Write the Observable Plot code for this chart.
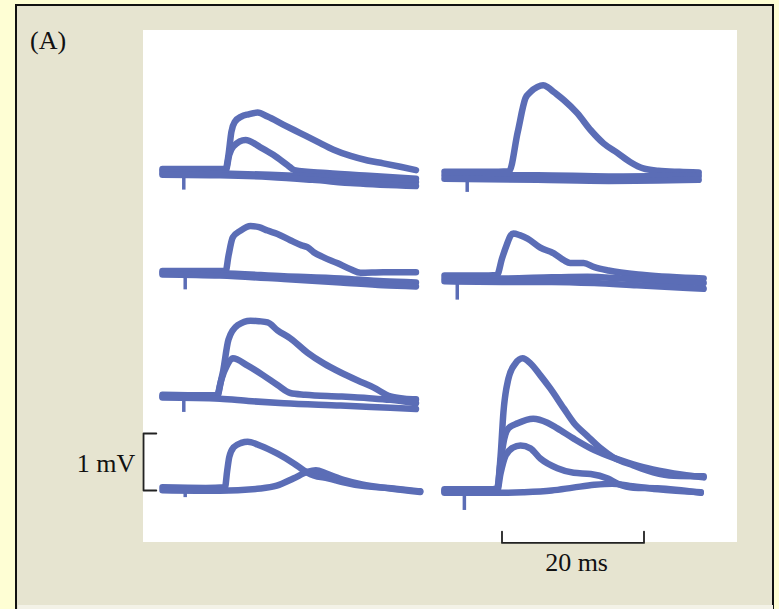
<!DOCTYPE html>
<html>
<head>
<meta charset="utf-8">
<script src="https://cdn.jsdelivr.net/npm/d3@7"></script>
<script src="https://cdn.jsdelivr.net/npm/@observablehq/plot@0.6"></script>
<style>
  body { margin: 0; background: #fefed4; }
  #wrap { position: relative; width: 779px; height: 609px; overflow: hidden; background: #fefed4; }
  #frame { position: absolute; left: 15px; top: 4px; width: 755px; height: 620px;
           border: 2.5px solid #111; border-bottom: none; background: #e6e4d0; }
  #strip { position: absolute; left: 17.5px; top: 605px; width: 755px; height: 6px; background: #f3f2e7; }
  #white { position: absolute; left: 143px; top: 30px; width: 594px; height: 512px; background: #fff; }
  #label { position: absolute; left: 30px; top: 28px; font: 26px/1 "Liberation Serif", serif; color: #111; }
  #chart { position: absolute; left: 0; top: 0; }
</style>
</head>
<body>
<div id="wrap">
  <div id="frame"></div>
  <div id="strip"></div>
  <div id="white"></div>
  <div id="label">(A)</div>
  <div id="chart"></div>
</div>
<script>
// ---- Recorded sweeps: [time (ms), membrane potential change (mV)] ----
// Left column
const L1_big   = [[-3.1,0.05],[0,0.05],[3,0.05],[5.8,0.05],[6.2,0.3],[6.6,0.7],[7.1,0.88],[8,0.97],[9,1.01],[10.3,1.04],[11.7,0.97],[13.9,0.83],[16.3,0.68],[18.7,0.53],[21,0.39],[23.4,0.28],[25.8,0.2],[28,0.15],[30.4,0.09],[32.6,0.03]];
const L1_small = [[-3.1,0.02],[3,0.02],[5.8,0.02],[6.3,0.3],[6.9,0.45],[8.6,0.56],[10.7,0.43],[12.5,0.3],[14.5,0.12],[15.5,0.03],[20,-0.02],[26,-0.07],[32.6,-0.12]];
const L1_baseA = [[-3.1,-0.02],[5,-0.03],[12,-0.05],[18,-0.08],[24,-0.12],[32.6,-0.18]];
const L1_baseB = [[-3.1,-0.05],[5,-0.06],[12,-0.09],[18,-0.14],[24,-0.2],[32.6,-0.25]];

const L2_big   = [[-3.1,0.03],[3,0.03],[5.8,0.03],[6.2,0.3],[6.8,0.62],[7.9,0.74],[9.3,0.82],[10.5,0.8],[11.7,0.74],[13.1,0.68],[14.9,0.57],[16.5,0.48],[17.3,0.45],[18.2,0.36],[19.6,0.27],[21.5,0.17],[23.4,0.06],[24.8,0.0],[28,0.01],[32.6,0.01]];
const L2_baseA = [[-3.1,0.0],[5,-0.01],[14,-0.06],[22,-0.1],[28,-0.15],[32.6,-0.17]];
const L2_baseB = [[-3.1,-0.03],[5,-0.05],[14,-0.11],[22,-0.17],[28,-0.22],[32.6,-0.24]];

const L3_big   = [[-3.1,0.03],[3,0.02],[4.6,0.02],[5.0,0.2],[5.4,0.42],[6.2,1.0],[7.5,1.25],[9.3,1.33],[10.5,1.32],[11.7,1.3],[13.1,1.16],[14.9,1.02],[17.3,0.77],[19.6,0.58],[22,0.42],[24.4,0.28],[26.6,0.16],[29,0.0],[31,-0.04],[32.6,-0.05]];
const L3_mid   = [[-3.1,0.0],[4.6,0.0],[5.2,0.3],[6,0.55],[6.8,0.67],[8.9,0.54],[11.1,0.37],[13.1,0.2],[14.9,0.06],[17,0.03],[22,0.0],[26,-0.03],[29,-0.06],[32.6,-0.12]];
const L3_base  = [[-3.1,-0.02],[5,-0.04],[9,-0.08],[14,-0.12],[22,-0.16],[29,-0.2],[32.6,-0.22]];

const L4_big   = [[-3.1,0.02],[3,0.01],[5.7,0.02],[6.0,0.3],[6.3,0.55],[6.9,0.72],[8.0,0.8],[8.9,0.82],[10.7,0.75],[13.1,0.61],[15.4,0.44],[17.3,0.28],[18.2,0.23],[20.2,0.18],[22.4,0.11],[24.8,0.05],[29.4,0],[33.2,-0.05]];
const L4_slow  = [[-3.1,-0.03],[5,-0.04],[10.7,0.0],[13,0.05],[15.4,0.18],[17.3,0.29],[18.5,0.32],[20,0.26],[22.4,0.15],[25,0.07],[29,0.0],[33.2,-0.06]];

// Right column
const R1_big   = [[-3.1,0.06],[3,0.06],[6.0,0.07],[7.2,0.75],[8.3,1.35],[9,1.46],[10,1.55],[10.8,1.58],[11.5,1.54],[12.3,1.46],[13.7,1.32],[15.6,1.09],[17.5,0.79],[19.3,0.56],[21.3,0.39],[23.1,0.23],[24.9,0.12],[27,0.08],[30,0.06],[32.7,0.05]];
const R1_baseA = [[-3.1,0.0],[10,0.0],[20,-0.02],[32.7,-0.01]];
const R1_baseB = [[-3.1,-0.06],[10,-0.08],[20,-0.1],[32.7,-0.08]];

const R2_epsp  = [[-3.1,0.05],[2,0.05],[4.3,0.06],[5.0,0.35],[5.7,0.6],[6.2,0.75],[6.6,0.79],[7.5,0.76],[8.6,0.7],[10.4,0.54],[12.3,0.44],[13.7,0.32],[14.6,0.27],[16.5,0.27],[18,0.2],[20,0.14],[25,0.06],[33.4,0.0]];
const R2_baseA = [[-3.1,0.0],[5,0.0],[12,0.02],[17,0.03],[22,0.0],[28,-0.05],[33.4,-0.08]];
const R2_baseB = [[-3.1,-0.05],[5,-0.06],[12,-0.06],[18,-0.08],[24,-0.12],[33.4,-0.18]];

const R4_big   = [[-3.1,0.02],[3,0.02],[4.3,0.03],[4.8,0.6],[5.2,1.37],[5.9,1.96],[6.9,2.23],[7.9,2.32],[9.0,2.23],[10.4,2.02],[11.8,1.79],[13.7,1.44],[15.1,1.19],[17.0,0.96],[18.9,0.74],[20.7,0.58],[23.5,0.44],[26.3,0.32],[29.2,0.26],[33.4,0.25]];
const R4_mid   = [[-3.1,0.0],[4.3,0.0],[4.8,0.5],[5.3,0.9],[5.9,1.09],[7.2,1.18],[9.4,1.26],[11.4,1.19],[12.8,1.09],[15.1,0.91],[17.5,0.74],[19.9,0.61],[22.7,0.49],[25.5,0.39],[29.2,0.3],[33.4,0.23]];
const R4_small = [[-3.1,-0.02],[4.3,-0.02],[4.8,0.3],[5.5,0.61],[6.5,0.75],[7.6,0.79],[9.0,0.74],[10.4,0.56],[12.8,0.39],[15.1,0.31],[17.5,0.29],[19.9,0.21],[21.3,0.12],[23.5,0.05],[26.9,0.04],[33,-0.04]];
const R4_base  = [[-3.1,-0.04],[4.3,-0.04],[8,-0.03],[12,0.0],[15,0.05],[18,0.1],[20.5,0.12],[23,0.08],[27,0.02],[33,-0.03]];

// Panel vertical stacking offsets (mV)
const panelOffset = {L1: 5.59, L2: 3.82, L3: 1.65, L4: 0.035, R1: 5.53, R2: 3.72, R4: 0};
const traces = [
  ["L1", L1_big], ["L1", L1_small], ["L1", L1_baseA], ["L1", L1_baseB],
  ["L2", L2_big], ["L2", L2_baseA], ["L2", L2_baseB],
  ["L3", L3_big], ["L3", L3_mid], ["L3", L3_base],
  ["L4", L4_big], ["L4", L4_slow],
  ["R1", R1_big], ["R1", R1_baseA], ["R1", R1_baseB],
  ["R2", R2_epsp], ["R2", R2_baseA], ["R2", R2_baseB],
  ["R4", R4_big], ["R4", R4_mid], ["R4", R4_small], ["R4", R4_base]
];
// Stimulus artifacts: [panel, time (ms), downward deflection (mV)]
const artifacts = [["L1",-0.1,0.32],["L2",0.1,0.3],["L3",-0.1,0.28],["L4",0.1,0.16],["R1",0.1,0.3],["R2",-1.3,0.38],["R4",-0.3,0.35]];

// Scale bars
const mvBar = {panel: "L4", value: 1, label: "1 mV", t: -5.77, tick: 1.8, base: -0.035};
const msBar = {panel: "R4", start: 5, value: 20, label: "20 ms", v: -0.92, tick: 0.2};

// ---- Build tables ----
const rows = traces.flatMap(([p, pts], i) =>
  pts.map(([t, v]) => ({col: p[0], id: i, t, v: v + panelOffset[p]})));
const artRows = artifacts.map(([p, t, d]) => ({col: p[0], t, y1: panelOffset[p], y2: panelOffset[p] - d}));

const mv0 = panelOffset[mvBar.panel] + mvBar.base;
const mvPath = [[mvBar.t + mvBar.tick, mv0 + mvBar.value], [mvBar.t, mv0 + mvBar.value], [mvBar.t, mv0], [mvBar.t + mvBar.tick, mv0]]
  .map(([t, v]) => ({col: "L", t, v}));
const msV = panelOffset[msBar.panel] + msBar.v;
const msPath = [[msBar.start, msV + msBar.tick], [msBar.start, msV], [msBar.start + msBar.value, msV], [msBar.start + msBar.value, msV + msBar.tick]]
  .map(([t, v]) => ({col: "R", t, v}));
const mvLabel = [{col: "L", t: mvBar.t - 1.15, v: mv0 + 0.32, s: mvBar.label}];
const msLabel = [{col: "R", t: msBar.start + msBar.value / 2 + 0.5, v: msV - 0.5, s: msBar.label}];

const W = 779, H = 609;
const pxPerMs = 7.1, pxPerMv = 57;
const xDomain = [-3.5, 33.5];
const bandW = (xDomain[1] - xDomain[0]) * pxPerMs;
const step = 282, left = 184 + xDomain[0] * pxPerMs, zeroY = 490;
const blue = "#5b6db6";
const textStyle = {fontSize: 26, fontFamily: "Liberation Serif", fill: "#111", lineAnchor: "bottom"};

const chart = Plot.plot({
  width: W, height: H,
  marginLeft: left, marginRight: W - left - step - bandW, marginTop: 0, marginBottom: 0,
  style: {background: "transparent", overflow: "visible"},
  fx: {domain: ["L", "R"], paddingInner: (step - bandW) / step, paddingOuter: 0, round: false, axis: null, label: null},
  x: {domain: xDomain, axis: null},
  y: {domain: [-(H - zeroY) / pxPerMv, zeroY / pxPerMv], axis: null},
  marks: [
    Plot.ruleX(artRows, {fx: "col", x: "t", y1: "y1", y2: "y2", stroke: blue, strokeWidth: 3.5}),
    Plot.line(rows, {fx: "col", x: "t", y: "v", z: "id", stroke: blue, strokeWidth: 6.5,
      curve: "monotone-x", strokeLinejoin: "round", strokeLinecap: "round"}),
    Plot.line(mvPath, {fx: "col", x: "t", y: "v", stroke: "#222", strokeWidth: 1.8}),
    Plot.line(msPath, {fx: "col", x: "t", y: "v", stroke: "#222", strokeWidth: 1.8}),
    Plot.text(mvLabel, {fx: "col", x: "t", y: "v", text: "s", textAnchor: "end", ...textStyle}),
    Plot.text(msLabel, {fx: "col", x: "t", y: "v", text: "s", textAnchor: "middle", ...textStyle})
  ]
});
document.getElementById("chart").appendChild(chart);
</script>
</body>
</html>
